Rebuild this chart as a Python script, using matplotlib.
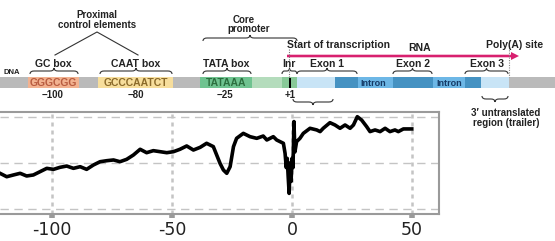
import numpy as np
import matplotlib
matplotlib.use("Agg")
import matplotlib.pyplot as plt
from matplotlib.path import Path
from matplotlib.patches import PathPatch, Rectangle, FancyArrow

plt.rcParams['axes.unicode_minus'] = False

# signal along the promoter (bp from transcription start)
bp_pos = [-121.7, -118.9, -116.1, -113.3, -110.6, -107.8, -105.0, -102.2, -99.4, -96.7,
          -93.9, -91.1, -88.3, -85.6, -82.8, -80.0, -77.2, -74.4, -71.7, -68.9,
          -66.1, -63.3, -60.6, -57.8, -55.0, -52.2, -49.4, -46.7, -43.9, -41.1,
          -38.3, -35.6, -32.8, -31.4, -30.0, -28.6, -27.2, -25.8, -24.4, -23.1,
          -20.3, -17.5, -14.7, -12.0, -10.5, -7.8, -6.4, -5.0, -3.6, -2.9,
          -2.4, -2.0, -1.6, -1.2, -0.8, -0.4, 0.0, 0.4, 0.8, 1.2,
          1.9, 3.3, 4.7, 7.5, 10.3, 11.7, 13.0, 15.8, 17.9, 20.0,
          22.1, 24.2, 25.6, 27.2, 29.0, 31.1, 32.5, 34.6, 36.7, 38.8,
          40.8, 42.9, 44.3, 46.4, 49.9]
signal = [0.388, 0.351, 0.370, 0.388, 0.359, 0.370, 0.406, 0.442, 0.431, 0.453,
          0.467, 0.442, 0.460, 0.431, 0.478, 0.514, 0.525, 0.533, 0.514, 0.540,
          0.587, 0.649, 0.612, 0.634, 0.623, 0.612, 0.623, 0.649, 0.685, 0.641,
          0.670, 0.714, 0.678, 0.587, 0.496, 0.424, 0.388, 0.460, 0.678, 0.768,
          0.822, 0.786, 0.768, 0.793, 0.750, 0.786, 0.750, 0.732, 0.714, 0.605,
          0.45, 0.55, 0.35, 0.17, 0.50, 0.30, 0.55, 0.45, 0.95, 0.62,
          0.732, 0.768, 0.822, 0.877, 0.859, 0.841, 0.877, 0.938, 0.913, 0.877,
          0.913, 0.877, 0.913, 1.003, 0.967, 0.895, 0.841, 0.859, 0.841, 0.877,
          0.841, 0.859, 0.841, 0.870, 0.870]
tick_pos = [-100, -50, 0, 50]
tick_labels = ['-100', '-50', '0', '50']
grid_y = [0.0, 0.5, 1.0]

W, H = 555, 241
fig = plt.figure(figsize=(W / 100, H / 100), dpi=100)

# ---- line plot ----
ax = fig.add_axes([0, (H - 214) / H, 439 / W, 102 / H])
ax.plot(bp_pos, signal, color='black', lw=2.6, solid_joinstyle='round', zorder=3)
ax.set_xlim(-121.7, 61.25)
ax.set_ylim(-0.054, 1.054)
for gy in grid_y:
    ax.axhline(gy, color='#c4c4c4', lw=1.0, dashes=(6, 4), zorder=1)
for gx in tick_pos:
    ax.axvline(gx, color='#c4c4c4', lw=1.8, dashes=(1.6, 1.6), zorder=1)
ax.set_xticks(tick_pos)
ax.set_xticklabels(tick_labels, fontsize=12.5, color='#222222')
ax.set_yticks([])
ax.tick_params(axis='x', length=3, width=4, color='#9a9a9a', pad=2)
ax.spines['left'].set_visible(False)
for s in ['top', 'bottom', 'right']:
    ax.spines[s].set_color('#9a9a9a')
    ax.spines[s].set_linewidth(1.5)

# ---- gene diagram (pixel coordinates) ----
d = fig.add_axes([0, 0, 1, 1])
d.set_xlim(0, W)
d.set_ylim(H, 0)
d.axis('off')
d.patch.set_visible(False)

bold = dict(family=['Liberation Sans', 'DejaVu Sans'], weight='bold', color='#222222',
            ha='center', va='center')

segments = [
    (0, 555, '#bababa'),
    (28, 79, '#f2b290'),
    (98, 173, '#f7de9c'),
    (200, 252, '#6fc390'),
    (252, 282, '#b4dcbc'),
    (282, 297, '#88c998'),
    (297, 335, '#c8e4f6'),
    (335, 358, '#4592c2'),
    (358, 393, '#6db7e6'),
    (393, 433, '#4592c2'),
    (433, 465, '#6db7e6'),
    (465, 481, '#4592c2'),
    (481, 509, '#c8e4f6'),
]
for x0, x1, c in segments:
    d.add_patch(Rectangle((x0, 77), x1 - x0, 11, color=c, lw=0))
d.add_patch(Rectangle((289, 77.5), 2.4, 10, color='black', lw=0))


def brace(x0, x1, y, h):
    m = (x0 + x1) / 2
    r = min(4, (x1 - x0) / 6)
    verts = [(x0, y + h), (x0, y), (x0 + r, y), (m - r, y), (m, y), (m, y - h),
             (m, y), (m + r, y), (x1 - r, y), (x1, y), (x1, y + h)]
    codes = [Path.MOVETO, Path.CURVE3, Path.CURVE3, Path.LINETO, Path.CURVE3, Path.CURVE3,
             Path.CURVE3, Path.CURVE3, Path.LINETO, Path.CURVE3, Path.CURVE3]
    d.add_patch(PathPatch(Path(verts, codes), fill=False, lw=0.8, ec='#333333'))


brace(30, 78, 71, 3)
brace(100, 172, 71, 3)
brace(203, 251, 71, 3)
brace(282, 297, 71, 3)
brace(297, 357, 71, 3)
brace(393, 432, 71, 3)
brace(465, 508, 71, 3)
brace(203, 297, 38, 3)
brace(293, 333, 102, -3)
brace(482, 508, 99, -3)

# proximal control element lines
d.plot([55, 97, 138], [55, 32, 55], color='#333333', lw=0.8)

d.text(97, 15, 'Proximal', fontsize=7, **bold)
d.text(97, 24.5, 'control elements', fontsize=7, **bold)
d.text(244, 20, 'Core', fontsize=7, **bold)
d.text(249, 29, 'promoter', fontsize=7, **bold)
d.text(12, 73, 'DNA', fontsize=5.5, **bold)
for label, cx in [('GC box', 53), ('CAAT box', 136), ('TATA box', 226),
                  ('Inr', 289), ('Exon 1', 327), ('Exon 2', 413), ('Exon 3', 487)]:
    d.text(cx, 64, label, fontsize=7.5, **bold)

seq_style = dict(family=['Liberation Sans', 'DejaVu Sans'], weight='bold',
                 ha='center', va='center', fontsize=7.5)
d.text(53.5, 83, 'GGGCGG', color='#b85c40', **seq_style)
d.text(136, 83, 'GCCCAATCT', color='#8a6a2a', **seq_style)
d.text(226, 83, 'TATAAA', color='#2b6e3e', **seq_style)
d.text(373, 83, 'Intron', color='#153a66', fontsize=6.5,
       **{k: v for k, v in seq_style.items() if k != 'fontsize'})
d.text(449, 83, 'Intron', color='#153a66', fontsize=6.5,
       **{k: v for k, v in seq_style.items() if k != 'fontsize'})

for label, cx in [('\u2212100', 53), ('\u221280', 136), ('\u221225', 225), ('+1', 290)]:
    d.text(cx, 94.5, label, fontsize=7, **bold)

# transcription arrow
d.add_patch(FancyArrow(287, 56, 232, 0, width=2.6, head_width=8, head_length=8,
                       length_includes_head=True, color='#d8206f', lw=0))
d.plot([289, 289], [49, 77], color='#777777', lw=0.8, dashes=(1, 1.2))
d.plot([509, 509], [40, 77], color='#888888', lw=0.8, dashes=(1, 1.2))

d.text(287, 45, 'Start of transcription', fontsize=7.5, **{**bold, 'ha': 'left'})
d.text(420, 48, 'RNA', fontsize=7.5, **bold)
d.text(515, 45, 'Poly(A) site', fontsize=7.5, **bold)
d.text(506, 113, '3\u2032 untranslated', fontsize=7, **bold)
d.text(506, 123, 'region (trailer)', fontsize=7, **bold)

fig.savefig('out.png', dpi=100)
